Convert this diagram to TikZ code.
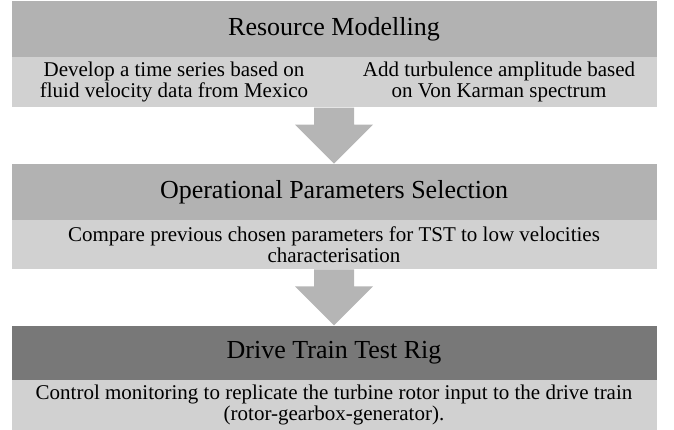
\documentclass[tikz,border=0pt]{standalone}
\usepackage{fontspec}
\setmainfont{Liberation Serif}
\usetikzlibrary{positioning,calc}
\definecolor{headgray}{gray}{0.70}
\definecolor{rigGray}{gray}{0.47}
\definecolor{subgray}{gray}{0.82}
\definecolor{arrowgray}{gray}{0.71}
\tikzset{
  head/.style={fill=headgray, minimum width=645pt, minimum height=56pt, inner sep=0pt, font=\fontsize{26}{29}\selectfont},
  sub/.style={fill=subgray, minimum width=645pt, minimum height=50pt, inner sep=0pt, align=center, font=\fontsize{21}{21}\selectfont},
  subtext/.style={align=center, inner sep=0pt, font=\fontsize{21}{21}\selectfont}
}

\begin{document}
\begin{tikzpicture}
    \useasboundingbox (0,0) rectangle (674pt,-430pt);
    % resource modelling
    \node [head] (res) at (334pt,-29pt) {Resource Modelling};
    \node [sub, below=0pt of res] (sub1) {};
    \node [subtext] (subL) at ($(sub1.center)+(-160pt,0)$) {Develop a time series based on\\fluid velocity data from Mexico};
    \node [subtext] (subR) at ($(sub1.center)+(165pt,0)$) {Add turbulence amplitude based\\on Von Karman spectrum};
    % operational parameters
    \node [head, below=56pt of sub1] (op) {Operational Parameters Selection};
    \node [sub, minimum height=49pt, below=0pt of op] (sub2) {Compare previous chosen parameters for TST to low velocities\\characterisation};
    % test rig
    \node [head, fill=rigGray, minimum height=54pt, below=56pt of sub2] (rig) {Drive Train Test Rig};
    \node [sub, below=0pt of rig] (sub3) {Control monitoring to replicate the turbine rotor input to the drive train\\(rotor-gearbox-generator).};
    % block arrows
    \foreach \a/\b in {sub1/op, sub2/rig}
    \fill [arrowgray] ($(\a.south)+(-20pt,0)$) -- ($(\a.south)+(-20pt,-17pt)$) -- ($(\a.south)+(-39pt,-17pt)$) -- (\b.north) -- ($(\a.south)+(39pt,-17pt)$) -- ($(\a.south)+(20pt,-17pt)$) -- ($(\a.south)+(20pt,0)$) -- cycle;
\end{tikzpicture}
\end{document}
